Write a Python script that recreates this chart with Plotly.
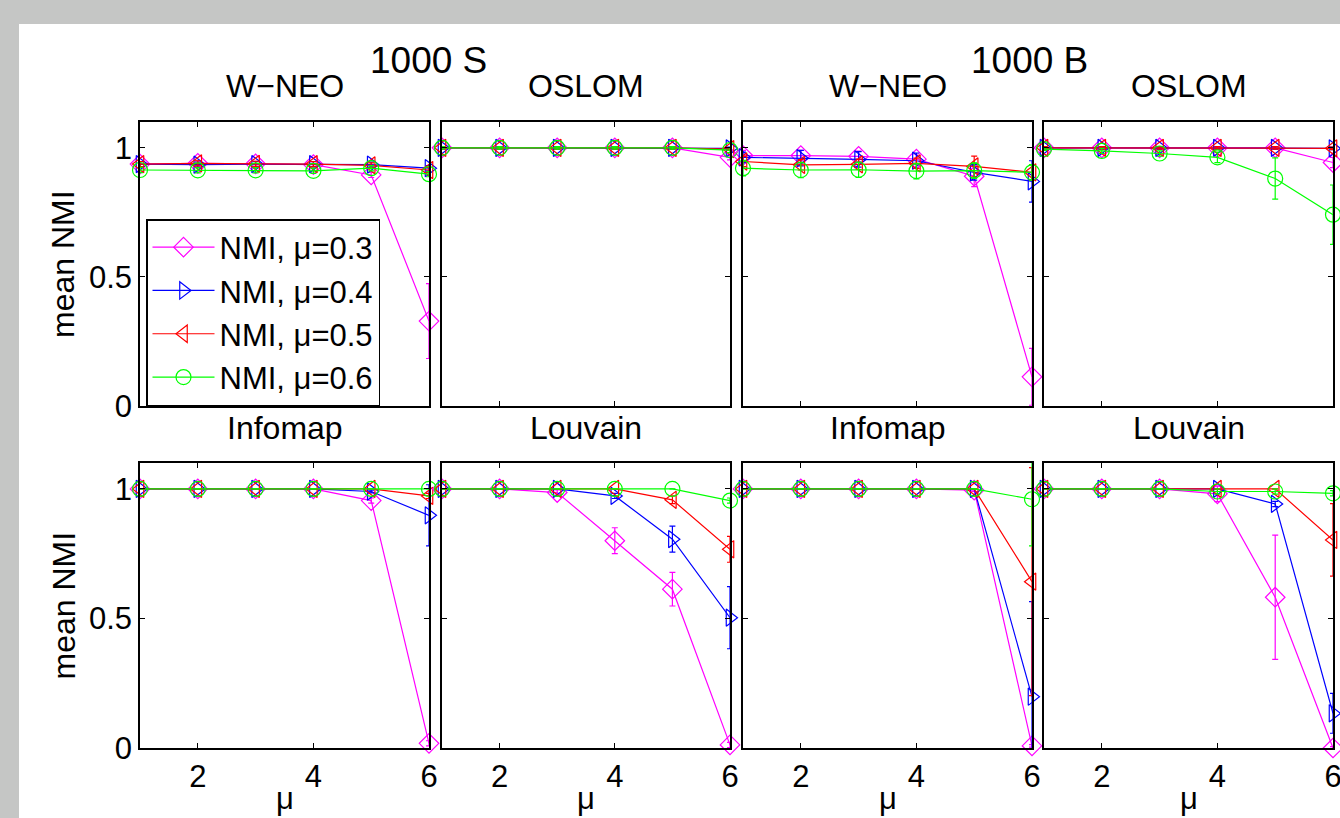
import plotly.graph_objects as go

# mixing parameter of the benchmark graphs (x axis)
mu_values = [1, 2, 3, 4, 5, 6]

# ---- 1000 S, W-NEO ----
wneo_s_03 = [0.937, 0.940, 0.938, 0.935, 0.895, 0.329]
wneo_s_04 = [0.937, 0.935, 0.937, 0.937, 0.935, 0.921]
wneo_s_05 = [0.937, 0.940, 0.938, 0.937, 0.932, 0.914]
wneo_s_06 = [0.914, 0.913, 0.913, 0.911, 0.921, 0.898]
wneo_s_03_err = [0.01, 0.01, 0.01, 0.01, 0.01, 0.145]
wneo_s_04_err = [0.01, 0.01, 0.01, 0.01, 0.01, 0.01]
wneo_s_05_err = [0.01, 0.01, 0.01, 0.01, 0.01, 0.01]
wneo_s_06_err = [0.01, 0.01, 0.01, 0.01, 0.01, 0.01]

# ---- 1000 S, OSLOM ----
oslom_s_03 = [1.0, 1.0, 1.0, 1.0, 1.0, 0.963]
oslom_s_04 = [1.0, 1.0, 1.0, 1.0, 1.0, 0.998]
oslom_s_05 = [1.0, 1.0, 1.0, 1.0, 1.0, 0.995]
oslom_s_06 = [1.0, 1.0, 1.0, 1.0, 1.0, 0.991]
oslom_s_03_err = [0.005, 0.005, 0.005, 0.005, 0.005, 0.01]
oslom_s_04_err = [0.005, 0.005, 0.005, 0.005, 0.005, 0.005]
oslom_s_05_err = [0.005, 0.005, 0.005, 0.005, 0.005, 0.005]
oslom_s_06_err = [0.005, 0.005, 0.005, 0.005, 0.005, 0.01]

# ---- 1000 B, W-NEO ----
wneo_b_03 = [0.970, 0.970, 0.967, 0.956, 0.890, 0.113]
wneo_b_04 = [0.963, 0.960, 0.955, 0.950, 0.905, 0.870]
wneo_b_05 = [0.947, 0.934, 0.936, 0.940, 0.928, 0.905]
wneo_b_06 = [0.921, 0.914, 0.915, 0.910, 0.912, 0.905]
wneo_b_03_err = [0.02, 0.02, 0.02, 0.02, 0.04, 0.11]
wneo_b_04_err = [0.02, 0.03, 0.03, 0.03, 0.03, 0.08]
wneo_b_05_err = [0.02, 0.02, 0.02, 0.02, 0.04, 0.03]
wneo_b_06_err = [0.03, 0.03, 0.03, 0.03, 0.03, 0.03]

# ---- 1000 B, OSLOM ----
oslom_b_03 = [1.0, 1.0, 1.0, 1.0, 1.0, 0.943]
oslom_b_04 = [1.0, 1.0, 1.0, 1.0, 1.0, 0.998]
oslom_b_05 = [1.0, 1.0, 1.0, 1.0, 1.0, 0.998]
oslom_b_06 = [0.995, 0.988, 0.978, 0.963, 0.881, 0.741]
oslom_b_03_err = [0.005, 0.005, 0.005, 0.005, 0.005, 0.02]
oslom_b_04_err = [0.005, 0.005, 0.005, 0.005, 0.005, 0.005]
oslom_b_05_err = [0.005, 0.005, 0.005, 0.005, 0.005, 0.005]
oslom_b_06_err = [0.005, 0.01, 0.01, 0.02, 0.08, 0.115]

# ---- 1000 S, Infomap ----
infomap_s_03 = [1.0, 1.0, 1.0, 1.0, 0.955, 0.018]
infomap_s_04 = [1.0, 1.0, 1.0, 1.0, 0.990, 0.898]
infomap_s_05 = [1.0, 1.0, 1.0, 1.0, 1.0, 0.973]
infomap_s_06 = [1.0, 1.0, 1.0, 1.0, 1.0, 1.0]
infomap_s_03_err = [0.0, 0.0, 0.0, 0.0, 0.01, 0.01]
infomap_s_04_err = [0.0, 0.0, 0.0, 0.0, 0.005, 0.118]
infomap_s_05_err = [0.0, 0.0, 0.0, 0.0, 0.0, 0.01]
infomap_s_06_err = [0.0, 0.0, 0.0, 0.0, 0.0, 0.0]

# ---- 1000 S, Louvain ----
louvain_s_03 = [1.0, 1.0, 0.986, 0.800, 0.613, 0.012]
louvain_s_04 = [1.0, 1.0, 1.0, 0.973, 0.806, 0.503]
louvain_s_05 = [1.0, 1.0, 1.0, 1.0, 0.958, 0.767]
louvain_s_06 = [1.0, 1.0, 1.0, 1.0, 1.0, 0.955]
louvain_s_03_err = [0.0, 0.0, 0.01, 0.05, 0.065, 0.01]
louvain_s_04_err = [0.0, 0.0, 0.0, 0.01, 0.05, 0.12]
louvain_s_05_err = [0.0, 0.0, 0.0, 0.0, 0.015, 0.05]
louvain_s_06_err = [0.0, 0.0, 0.0, 0.0, 0.0, 0.01]

# ---- 1000 B, Infomap ----
infomap_b_03 = [1.0, 1.0, 1.0, 1.0, 0.995, 0.008]
infomap_b_04 = [1.0, 1.0, 1.0, 1.0, 1.0, 0.198]
infomap_b_05 = [1.0, 1.0, 1.0, 1.0, 1.0, 0.642]
infomap_b_06 = [1.0, 1.0, 1.0, 1.0, 1.0, 0.960]
infomap_b_03_err = [0.0, 0.0, 0.0, 0.0, 0.005, 0.005]
infomap_b_04_err = [0.0, 0.0, 0.0, 0.0, 0.0, 0.367]
infomap_b_05_err = [0.0, 0.0, 0.0, 0.0, 0.0, 0.44]
infomap_b_06_err = [0.0, 0.0, 0.0, 0.0, 0.0, 0.18]

# ---- 1000 B, Louvain ----
louvain_b_03 = [1.0, 1.0, 1.0, 0.981, 0.582, 0.0]
louvain_b_04 = [1.0, 1.0, 1.0, 1.0, 0.942, 0.134]
louvain_b_05 = [1.0, 1.0, 1.0, 1.0, 1.0, 0.803]
louvain_b_06 = [1.0, 1.0, 1.0, 0.990, 0.990, 0.983]
louvain_b_03_err = [0.0, 0.0, 0.0, 0.03, 0.24, 0.005]
louvain_b_04_err = [0.0, 0.0, 0.0, 0.0, 0.01, 0.077]
louvain_b_05_err = [0.0, 0.0, 0.0, 0.0, 0.0, 0.14]
louvain_b_06_err = [0.0, 0.0, 0.0, 0.01, 0.01, 0.01]

series_labels = ["NMI, μ=0.3", "NMI, μ=0.4", "NMI, μ=0.5", "NMI, μ=0.6"]
series_colors = ["#ff00ff", "#0000ff", "#ff0000", "#00ff00"]
series_symbols = ["diamond-open", "triangle-right-open", "triangle-left-open", "circle-open"]

panel_titles = ["W\u2212NEO", "OSLOM", "W\u2212NEO", "OSLOM",
                "Infomap", "Louvain", "Infomap", "Louvain"]
group_titles = ["1000 S", "1000 B"]

panels = [
    ([wneo_s_03, wneo_s_04, wneo_s_05, wneo_s_06],
     [wneo_s_03_err, wneo_s_04_err, wneo_s_05_err, wneo_s_06_err]),
    ([oslom_s_03, oslom_s_04, oslom_s_05, oslom_s_06],
     [oslom_s_03_err, oslom_s_04_err, oslom_s_05_err, oslom_s_06_err]),
    ([wneo_b_03, wneo_b_04, wneo_b_05, wneo_b_06],
     [wneo_b_03_err, wneo_b_04_err, wneo_b_05_err, wneo_b_06_err]),
    ([oslom_b_03, oslom_b_04, oslom_b_05, oslom_b_06],
     [oslom_b_03_err, oslom_b_04_err, oslom_b_05_err, oslom_b_06_err]),
    ([infomap_s_03, infomap_s_04, infomap_s_05, infomap_s_06],
     [infomap_s_03_err, infomap_s_04_err, infomap_s_05_err, infomap_s_06_err]),
    ([louvain_s_03, louvain_s_04, louvain_s_05, louvain_s_06],
     [louvain_s_03_err, louvain_s_04_err, louvain_s_05_err, louvain_s_06_err]),
    ([infomap_b_03, infomap_b_04, infomap_b_05, infomap_b_06],
     [infomap_b_03_err, infomap_b_04_err, infomap_b_05_err, infomap_b_06_err]),
    ([louvain_b_03, louvain_b_04, louvain_b_05, louvain_b_06],
     [louvain_b_03_err, louvain_b_04_err, louvain_b_05_err, louvain_b_06_err]),
]

W, H = 1340, 818
FONT = "Liberation Sans, Arial, Helvetica, sans-serif"

# panel boxes in pixels (left, right) and (top, bottom)
col_px = [(140, 429), (442, 730), (743, 1032), (1044, 1333)]
row_px = [(122, 406), (463, 748)]


def px_x(v):
    return v / W


def px_y(v):
    return 1 - v / H


fig = go.Figure()
layout = {}

for i, (means, errs) in enumerate(panels):
    r, c = divmod(i, 4)
    n = i + 1
    xa = "x" if n == 1 else f"x{n}"
    ya = "y" if n == 1 else f"y{n}"
    for k in range(4):
        # error bars, clipped to the axes box
        fig.add_trace(go.Scatter(
            x=mu_values, y=means[k],
            mode="markers",
            marker=dict(size=0.1, opacity=0, color=series_colors[k]),
            error_y=dict(type="data", array=errs[k], visible=True,
                         color=series_colors[k], thickness=1.2, width=3),
            cliponaxis=True, showlegend=False, hoverinfo="skip",
            xaxis=xa, yaxis=ya,
        ))
        # mean curve with open markers (markers may spill over the box)
        fig.add_trace(go.Scatter(
            x=mu_values, y=means[k],
            mode="lines+markers",
            name=series_labels[k],
            showlegend=(i == 0),
            legendgroup=series_labels[k],
            line=dict(color=series_colors[k], width=1.2),
            marker=dict(symbol=series_symbols[k], size=15,
                        color=series_colors[k], line=dict(width=1.2)),
            cliponaxis=False,
            xaxis=xa, yaxis=ya,
        ))

    x0, x1 = col_px[c]
    y0, y1 = row_px[r]
    common = dict(
        showline=True, linecolor="black", linewidth=1.5, mirror="ticks",
        ticks="inside", ticklen=5, tickwidth=1, tickcolor="black",
        showgrid=False, zeroline=False,
        tickfont=dict(family=FONT, size=31, color="black"),
        ticklabeloverflow="allow",
    )
    layout["xaxis" if n == 1 else f"xaxis{n}"] = dict(
        common, domain=[px_x(x0), px_x(x1)], range=[1, 6],
        tickvals=[2, 4, 6], showticklabels=(r == 1),
        anchor=ya, ticklabelstandoff=0,
    )
    layout["yaxis" if n == 1 else f"yaxis{n}"] = dict(
        common, domain=[px_y(y1), px_y(y0)], range=[0, 1.1],
        tickvals=[0, 0.5, 1], showticklabels=(c == 0),
        anchor=xa, ticklabelstandoff=0,
    )

annotations = []
# panel titles
for i, t in enumerate(panel_titles):
    r, c = divmod(i, 4)
    x0, x1 = col_px[c]
    ty = 86 if r == 0 else 428
    annotations.append(dict(
        text=t, x=px_x((x0 + x1) / 2), y=px_y(ty), xref="paper", yref="paper",
        xanchor="center", yanchor="middle", showarrow=False,
        font=dict(family=FONT, size=32, color="black"),
    ))
# group titles
for t, gx in zip(group_titles, [428, 1029]):
    annotations.append(dict(
        text=t, x=px_x(gx), y=px_y(60), xref="paper", yref="paper",
        xanchor="center", yanchor="middle", showarrow=False,
        font=dict(family=FONT, size=37, color="black"),
    ))
# x axis titles
for c in range(4):
    x0, x1 = col_px[c]
    annotations.append(dict(
        text="μ", x=px_x((x0 + x1) / 2), y=0.0, xref="paper", yref="paper",
        xanchor="center", yanchor="bottom", showarrow=False,
        font=dict(family=FONT, size=31, color="black"),
    ))
# y axis titles
for r in range(2):
    y0, y1 = row_px[r]
    annotations.append(dict(
        text="mean NMI", x=px_x(63), y=px_y((y0 + y1) / 2), xref="paper", yref="paper",
        xanchor="center", yanchor="middle", showarrow=False, textangle=-90,
        font=dict(family=FONT, size=32, color="black"),
    ))

fig.update_layout(
    **layout,
    width=W, height=H,
    margin=dict(l=0, r=0, t=0, b=0, autoexpand=False),
    paper_bgcolor="#c5c6c5",
    plot_bgcolor="white",
    annotations=annotations,
    shapes=[dict(type="rect", xref="paper", yref="paper",
                 x0=px_x(19), x1=1.0, y0=0.0, y1=px_y(24),
                 fillcolor="white", line=dict(width=0), layer="below")],
    legend=dict(
        x=px_x(146), y=px_y(219), xanchor="left", yanchor="top",
        bgcolor="white", bordercolor="black", borderwidth=1.5,
        font=dict(family=FONT, size=31, color="black"),
        itemwidth=62, tracegroupgap=0, traceorder="normal",
    ),
    font=dict(family=FONT, color="black"),
)

fig.write_html("out.html")
